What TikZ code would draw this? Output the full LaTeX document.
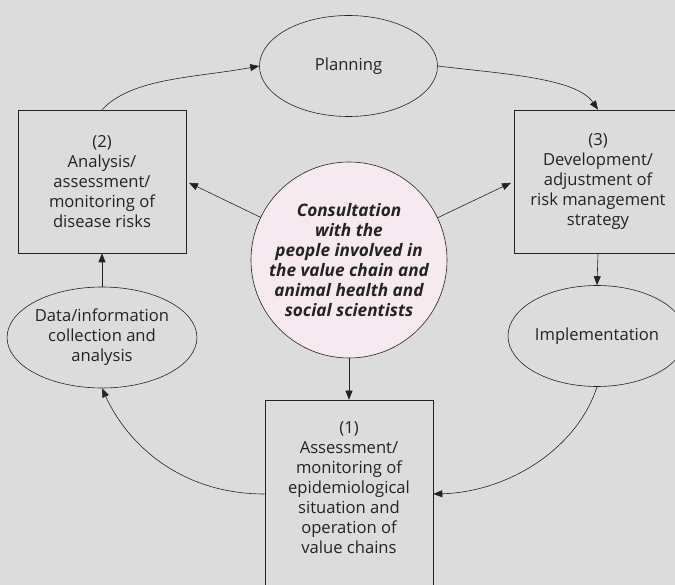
\documentclass[tikz,border=0pt]{standalone}
\usepackage{fontspec}
\setmainfont{Open Sans}
\usetikzlibrary{shapes.geometric,arrows.meta}
\definecolor{panel}{RGB}{220,220,220}
\definecolor{blush}{RGB}{246,233,239}
\definecolor{ink}{RGB}{35,35,35}

\begin{document}
\begin{tikzpicture}[x=1pt,y=-1pt,
    every node/.style={font=\fontsize{16.6}{20}\selectfont,align=center,text=ink},
    stagebox/.style={draw=ink,line width=0.6pt,inner sep=0pt,minimum width=168pt},
    stageoval/.style={ellipse,draw=ink,line width=0.6pt,inner sep=0pt,minimum width=178pt,minimum height=101pt},
    link/.style={draw=ink,line width=0.6pt,-{Triangle[length=9pt,width=7pt]}}]
    \clip (0,0) rectangle (675,585);
    \fill[panel] (0,0) rectangle (675,585);

    % stages
    \node[stagebox,minimum height=143pt] (box2) at (102,181.5)
        {(2)\\Analysis/\\assessment/\\monitoring of\\disease risks};
    \node[stagebox,minimum height=143pt] (box3) at (598,181.5)
        {(3)\\Development/\\adjustment of\\risk management\\strategy};
    \node[stagebox,minimum height=188pt] (box1) at (349,494)
        {(1)\\Assessment/\\monitoring of\\epidemiological\\situation and\\operation of\\value chains\\[-8pt]\mbox{}};

    % ovals
    \node[stageoval] (plan) at (348.5,66) {Planning};
    \node[stageoval] (data) at (102,337.5) {Data/information\\collection and\\analysis};
    \node[stageoval] (impl) at (597,336) {Implementation};

    % centre
    \node[circle,draw=ink,line width=0.6pt,fill=blush,minimum size=196pt,inner sep=0pt,
        font=\fontsize{17.2}{20}\selectfont\bfseries\itshape] (cons) at (349,260)
        {Consultation\\with the\\people involved in\\the value chain and\\animal health and\\social scientists};

    % cycle
    \draw[link] (box2.north) .. controls +(30,-32) and +(-65,12) .. (plan.west);
    \draw[link] (plan.east) .. controls +(65,8) and +(-22,-32) .. (box3.north);
    \draw[link] (box3.south) -- (impl.north);
    \draw[link] (impl.south) .. controls +(-20,62) and +(75,-2) .. (box1.east);
    \draw[link] (box1.west) .. controls +(-85,0) and +(25,55) .. (data.south);
    \draw[link] (data.north) -- (box2.south);

    % spokes
    \draw[link,shorten >=3pt] (cons) -- (box2.east);
    \draw[link,shorten >=3pt] (cons) -- (box3.west);
    \draw[link] (cons.south) -- (box1.north);
\end{tikzpicture}
\end{document}
